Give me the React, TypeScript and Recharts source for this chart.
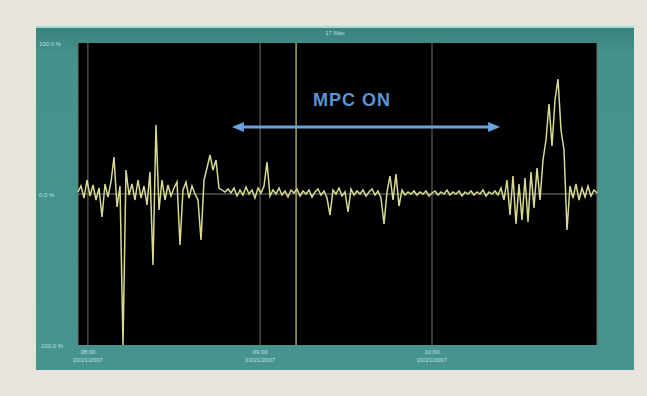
import { ComposedChart, Line, XAxis, YAxis, CartesianGrid, ReferenceLine, ReferenceDot } from 'recharts';

const trendValues = [
  2, 8, -4, 14, -2, 9, -6, 6, -23, 10, -3, 12, 37, -13, 8, -151, 24, -1, 10, -6,
  14, -4, 8, -11, 22, -71, 69, -16, 14, -6, 9, -2, 6, 12, -51, 4, 12, -4, 8, 0,
  -6, -46, 14, 26, 39, 24, 34, 6, 4, 2, 5, 1, 6, -2, 4, -1, 7, 0, 4, -4,
  6, 1, 8, 32, -2, 4, 0, 6, -1, 3, -3, 4, 1, 5, -2, 3, 0, 4, -3, 2,
  5, -1, 3, -4, -21, 4, 0, 6, -2, 2, -18, 5, -1, 3, 0, 4, -2, 2, 5, -1,
  3, -4, -30, 2, 18, -6, 20, -12, 4, -1, 2, 0, 3, -1, 2, 0, 3, -2, 1, 3,
  -1, 2, 0, 4, -1, 2, 0, 3, -2, 2, 0, 3, -1, 2, 0, 4, -2, 2, 0, 3,
  -1, 6, -6, 14, -21, 18, -30, 10, -26, 16, -28, 22, -14, 26, -6, 34, 54, 90, 48, 94,
  115, 64, 44, -36, 8, -4, 10, -6, 6, -3, 8, -2, 4, 1,
];
const data = trendValues.map((v, i) => ({ t: i, v }));

const timeTicks = [3.3, 60.7, 118];
const timeLabels = [
  ['08:00', '03/21/2007'],
  ['09:00', '03/21/2007'],
  ['10:00', '03/21/2007'],
];
const valueTicks = [-151, 0, 151];
const leftLabels = ['-100.0 %', '0.0 %', '100.0 %'];
const rightLabels = ['-100.0', '0.0', '100.0'];

const cursorAt = 72.7;
const mpcStart = 51.3;
const mpcEnd = 140.7;
const mpcY = 67;

const tickColor = '#cdeeee';

const LeftTick = (props: any) => {
  const { y, payload, index } = props;
  return (
    <text x={3} y={y + 3} fill={tickColor} fontSize={6} fontFamily="Arial, sans-serif" opacity={0.85}>
      {leftLabels[index] ?? payload.value}
    </text>
  );
};

const RightTick = (props: any) => {
  const { x, y, payload, index } = props;
  return (
    <text x={x + 6} y={y + 3} fill={tickColor} fontSize={6} fontFamily="Arial, sans-serif" opacity={0.85}>
      {rightLabels[index] ?? payload.value}
    </text>
  );
};

const TimeTick = (props: any) => {
  const { x, y, index } = props;
  const lbl = timeLabels[index] || ['', ''];
  return (
    <text x={x} y={y} fill={tickColor} fontSize={6} fontFamily="Arial, sans-serif" textAnchor="middle" opacity={0.85}>
      <tspan x={x} dy={1}>{lbl[0]}</tspan>
      <tspan x={x} dy={8}>{lbl[1]}</tspan>
    </text>
  );
};

const arrowHead = (dir: number) => (props: any) => {
  const { cx, cy } = props;
  const tip = cx;
  const back = cx - dir * 12;
  return <polygon points={`${tip},${cy} ${back},${cy - 5} ${back},${cy + 5}`} fill="#6aa4dc" />;
};

export default function App() {
  return (
    <div style={{ position: 'absolute', left: 0, top: 0, width: 647, height: 396, background: '#e7e3dd' }}>
      <div
        style={{
          position: 'absolute',
          left: 36,
          top: 26,
          width: 598,
          height: 344,
          background: 'linear-gradient(180deg, #3a827c 0%, #45928c 8%, #47948e 100%)',
          borderTop: '2px solid #9fdcd8',
          boxSizing: 'border-box',
        }}
      >
        <div
          style={{
            position: 'absolute',
            left: 0,
            width: '100%',
            top: 2,
            textAlign: 'center',
            fontSize: 6,
            color: tickColor,
            fontFamily: 'Arial, sans-serif',
            opacity: 0.8,
          }}
        >
          17 Max
        </div>
        <ComposedChart
          width={598}
          height={342}
          data={data}
          margin={{ top: 15, right: 0, bottom: 0, left: 0 }}
          style={{ position: 'absolute', left: 0, top: 0 }}
        >
          <CartesianGrid horizontal={false} stroke="#6e6e6a" strokeWidth={1} fill="#000" fillOpacity={1} />
          <XAxis
            dataKey="t"
            type="number"
            domain={[0, 173]}
            ticks={timeTicks}
            height={25}
            axisLine={false}
            tickLine={false}
            tick={<TimeTick />}
            interval={0}
          />
          <YAxis
            yAxisId="l"
            domain={[-151, 151]}
            ticks={valueTicks}
            width={42}
            axisLine={false}
            tickLine={false}
            tick={<LeftTick />}
            interval={0}
          />
          <YAxis
            yAxisId="r"
            orientation="right"
            domain={[-151, 151]}
            ticks={valueTicks}
            width={37}
            axisLine={false}
            tickLine={false}
            tick={<RightTick />}
            interval={0}
          />
          <ReferenceLine yAxisId="l" y={0} stroke="#7a7a76" strokeWidth={1} />
          <ReferenceLine yAxisId="l" x={cursorAt} stroke="#a8a468" strokeWidth={1.5} />
          <Line
            yAxisId="l"
            dataKey="v"
            type="linear"
            stroke="#d8da92"
            strokeWidth={1.5}
            dot={false}
            isAnimationActive={false}
          />
          <ReferenceLine
            yAxisId="l"
            segment={[
              { x: mpcStart + 3, y: mpcY },
              { x: mpcEnd - 3, y: mpcY },
            ]}
            stroke="#6aa4dc"
            strokeWidth={3}
          />
          <ReferenceDot yAxisId="l" x={mpcStart} y={mpcY} r={5} shape={arrowHead(-1)} />
          <ReferenceDot yAxisId="l" x={mpcEnd} y={mpcY} r={5} shape={arrowHead(1)} />
          <ReferenceDot
            yAxisId="l"
            x={91.3}
            y={94}
            r={0}
            fill="none"
            stroke="none"
            label={{
              value: 'MPC ON',
              fill: '#5b95d6',
              fontSize: 18,
              fontWeight: 600,
              letterSpacing: 1,
              fontFamily: 'Arial, sans-serif',
              position: 'center',
            }}
          />
        </ComposedChart>
      </div>
    </div>
  );
}
